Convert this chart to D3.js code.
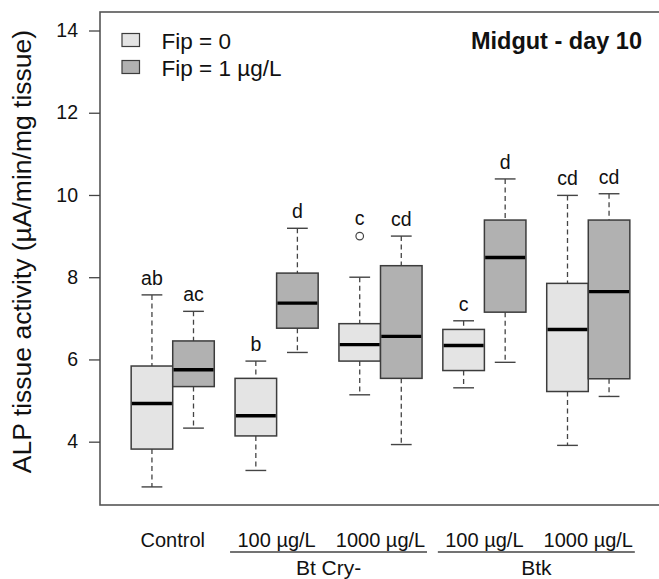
<!DOCTYPE html>
<html>
<head>
<meta charset="utf-8">
<script src="https://cdn.jsdelivr.net/npm/d3@7"></script>
<style>
  html, body { margin: 0; padding: 0; background: #fff; }
  svg { display: block; }
  text { font-family: "Liberation Sans", Arial, Helvetica, sans-serif; fill: #111; }
</style>
</head>
<body>
<svg id="chart" width="659" height="579"></svg>
<script>
// ---- data ----
const boxNames   = ["Control-0","Control-1","BtCry100-0","BtCry100-1","BtCry1000-0","BtCry1000-1","Btk100-0","Btk100-1","Btk1000-0","Btk1000-1"];
const boxGroup   = [0,1,0,1,0,1,0,1,0,1];           // 0: Fip = 0, 1: Fip = 1 µg/L
const boxPos     = [1,2,3.5,4.5,6,7,8.5,9.5,11,12];  // positions along x
const whiskerLow = [2.90, 4.33, 3.30, 6.17, 5.14, 3.93, 5.31, 5.93, 3.91, 5.10];
const q1         = [3.82, 5.34, 4.14, 6.76, 5.96, 5.54, 5.73, 7.15, 5.22, 5.53];
const medians    = [4.93, 5.75, 4.63, 7.37, 6.36, 6.56, 6.34, 8.48, 6.73, 7.65];
const q3         = [5.84, 6.45, 5.54, 8.10, 6.87, 8.28, 6.73, 9.39, 7.85, 9.39];
const whiskerHigh= [7.57, 7.17, 5.96, 9.19, 8.00, 9.00, 6.94, 10.39, 9.99, 10.03];
const outliers   = [[],[],[],[],[9.00],[],[],[],[],[]];
const letters    = ["ab","ac","b","d","c","cd","c","d","cd","cd"];

const yTicks     = [4, 6, 8, 10, 12, 14];
const doseLabels = ["Control","100 µg/L","1000 µg/L","100 µg/L","1000 µg/L"];
const dosePos    = [1.5, 4, 6.5, 9, 11.5];
const toxinLabels= ["Bt Cry-","Btk"];
const toxinPos   = [5.25, 10.25];
const legendLabels = ["Fip = 0","Fip = 1 µg/L"];
const title      = "Midgut - day 10";
const yTitle     = "ALP tissue activity (µA/min/mg tissue)";

// ---- styles ----
const fills = ["#e4e4e4", "#b1b1b1"];
const strokeCol = "#3c3c3c";

const svg = d3.select("#chart");
svg.append("rect").attr("width",659).attr("height",579).attr("fill","#fff");

const plot = {left:100, top:12, right:661, bottom:505};
const x = d3.scaleLinear().domain([-0.25, 13.25]).range([plot.left, plot.right]);
const y = d3.scaleLinear().domain([2.46, 14.45]).range([plot.bottom, plot.top]);
const unit = x(1) - x(0);
const bw = unit * 1.0;

// frame
svg.append("rect")
  .attr("x", plot.left).attr("y", plot.top)
  .attr("width", plot.right - plot.left).attr("height", plot.bottom - plot.top)
  .attr("fill","none").attr("stroke","#555").attr("stroke-width",1.6);

// y axis
const yAxis = d3.axisLeft(y).tickValues(yTicks).tickSize(11).tickPadding(11).tickFormat(d3.format("d"));
const ga = svg.append("g").attr("transform",`translate(${plot.left},0)`).call(yAxis);
ga.select(".domain").remove();
ga.selectAll(".tick line").attr("stroke","#444").attr("stroke-width",1.3);
ga.selectAll(".tick text").attr("font-size",19.5).attr("fill","#111")
  .attr("font-family",'"Liberation Sans", Arial, sans-serif');

// y title
svg.append("text")
  .attr("transform", `translate(31,${(30+473)/2}) rotate(-90)`)
  .attr("text-anchor","middle")
  .attr("font-size",26.5)
  .text(yTitle);

// boxes
const idx = d3.range(boxNames.length);
const g = svg.append("g");
idx.forEach(i => {
  const cx = x(boxPos[i]);
  // whiskers (dashed)
  g.append("line").attr("x1",cx).attr("x2",cx).attr("y1",y(whiskerHigh[i])).attr("y2",y(q3[i]))
    .attr("stroke","#444").attr("stroke-width",1.3).attr("stroke-dasharray","5,3.5");
  g.append("line").attr("x1",cx).attr("x2",cx).attr("y1",y(q1[i])).attr("y2",y(whiskerLow[i]))
    .attr("stroke","#444").attr("stroke-width",1.3).attr("stroke-dasharray","5,3.5");
  // staples
  [whiskerHigh[i], whiskerLow[i]].forEach(v => {
    g.append("line").attr("x1",cx - bw/4).attr("x2",cx + bw/4).attr("y1",y(v)).attr("y2",y(v))
      .attr("stroke","#444").attr("stroke-width",1.4);
  });
  // box
  g.append("rect").attr("x",cx - bw/2).attr("y",y(q3[i]))
    .attr("width",bw).attr("height",y(q1[i]) - y(q3[i]))
    .attr("fill",fills[boxGroup[i]]).attr("stroke",strokeCol).attr("stroke-width",1.5);
  // median
  g.append("line").attr("x1",cx - bw/2 + 0.8).attr("x2",cx + bw/2 - 0.8)
    .attr("y1",y(medians[i])).attr("y2",y(medians[i]))
    .attr("stroke","#000").attr("stroke-width",3.4);
  // outliers
  outliers[i].forEach(v => {
    g.append("circle").attr("cx",cx).attr("cy",y(v)).attr("r",3.8)
      .attr("fill","none").attr("stroke","#444").attr("stroke-width",1.2);
  });
  // letters
  const hasOut = outliers[i].length > 0;
  const top = hasOut ? d3.max(outliers[i]) : whiskerHigh[i];
  g.append("text").attr("x",cx).attr("y",y(top) - (hasOut ? 11 : 10))
    .attr("text-anchor","middle").attr("font-size",19.5).text(letters[i]);
});

// legend
const lg = svg.append("g");
legendLabels.forEach((lab,i) => {
  lg.append("rect").attr("x",122).attr("y",33.5 + i*27).attr("width",17.5).attr("height",13)
    .attr("fill",fills[i]).attr("stroke",strokeCol).attr("stroke-width",1.2);
  lg.append("text").attr("x",161.5).attr("y",48.5 + i*27).attr("font-size",22.5).text(lab);
});

// title
svg.append("text").attr("x",642).attr("y",48.5).attr("text-anchor","end")
  .attr("font-size",23.5).attr("font-weight","bold").text(title);

// x category labels
dosePos.forEach((p,i) => {
  svg.append("text").attr("x",x(p)).attr("y",546.5).attr("text-anchor","middle")
    .attr("font-size",20).text(doseLabels[i]);
});
// group underlines and labels
toxinPos.forEach((p,i) => {
  svg.append("line").attr("x1",x(p - 2.37)).attr("x2",x(p + 2.37)).attr("y1",552).attr("y2",552)
    .attr("stroke","#444").attr("stroke-width",1.4);
  svg.append("text").attr("x",x(p)).attr("y",575).attr("text-anchor","middle")
    .attr("font-size",21).text(toxinLabels[i]);
});
</script>
</body>
</html>
